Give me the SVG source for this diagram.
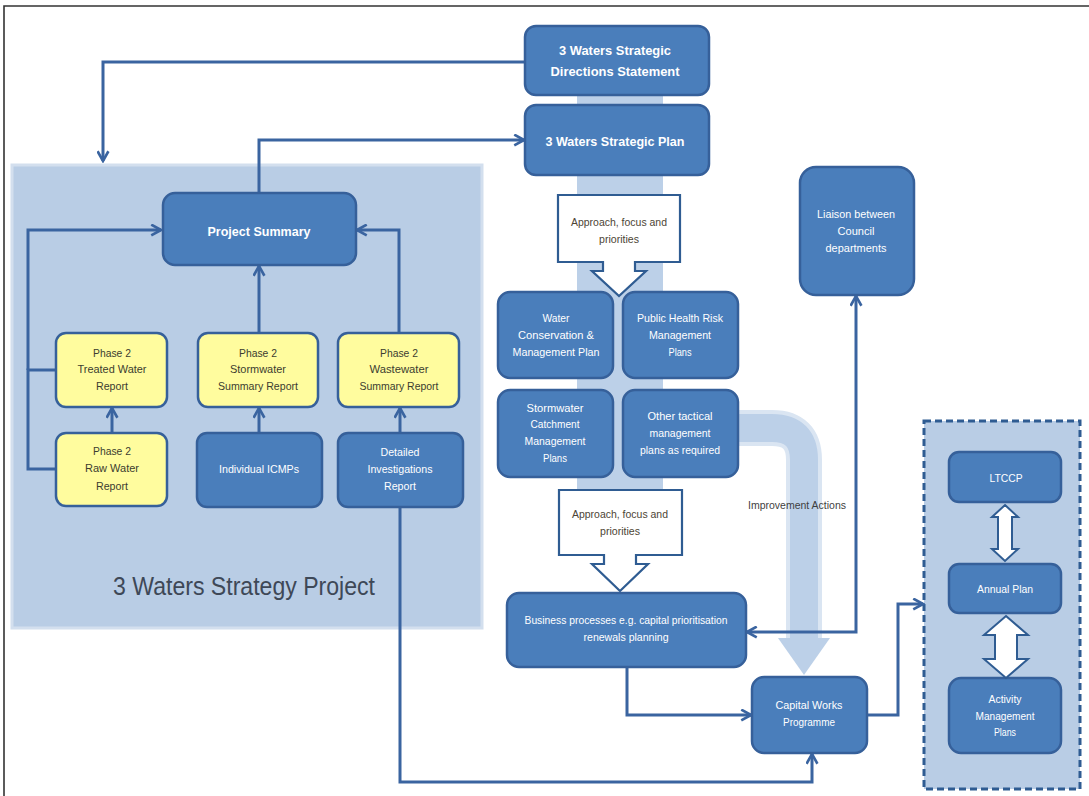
<svg xmlns="http://www.w3.org/2000/svg" width="1089" height="796" viewBox="0 0 1089 796">
  <defs>
    <style>
      .box { fill: #4A7EBB; stroke: #36609A; stroke-width: 2.5; }
      .ybox { fill: #FFFC9E; stroke: #36609A; stroke-width: 2.5; }
      .callout { fill: #FFFFFF; stroke: #2F5C92; stroke-width: 2.2; }
      .dbl { fill: #FFFFFF; stroke: #2F5C92; stroke-width: 2; }
      .con { fill: none; stroke: #3A64A0; stroke-width: 3; }
      .arr { marker-end: url(#head); }
      text { font-family: "Liberation Sans Narrow", "Liberation Sans", Arial, sans-serif; text-anchor: middle; }
      .t { fill: #FFFFFF; font-size: 11px; }
      .tb { fill: #FFFFFF; font-size: 13px; font-weight: bold; }
      .ty { fill: #3C3C30; font-size: 11px; }
      .tc { fill: #4D4535; font-size: 11px; }
      .tg { fill: #3F3F3F; font-size: 11px; }
      .title { fill: #3E4857; font-size: 26px; }
    </style>
    <marker id="head" viewBox="0 0 12 12" refX="10.5" refY="6" markerWidth="13" markerHeight="13" markerUnits="userSpaceOnUse" orient="auto">
      <path d="M1.5,1 L10.5,6 L1.5,11" fill="none" stroke="#3A64A0" stroke-width="2.4"/>
    </marker>
  </defs>

  <rect x="0" y="0" width="1089" height="796" fill="#FFFFFF"/>

  <!-- page frame -->
  <path d="M4,796 V6 H1089" fill="none" stroke="#333333" stroke-width="1.6"/>

  <!-- project panel -->
  <g id="strategy-project">
    <rect x="12" y="165" width="470" height="463" fill="#B9CDE5" stroke="#D3DFEE" stroke-width="3"/>
    <text class="title" x="244" y="595" textLength="262" lengthAdjust="spacingAndGlyphs">3 Waters Strategy Project</text>
  </g>

  <!-- background flows -->
  <g id="flow-bands">
    <rect x="577" y="95" width="86" height="400" fill="#BCD0E8"/>
    <path d="M735,428 H772 Q804,428 804,460 V640" fill="none" stroke="#DAE5F2" stroke-width="36"/>
    <path d="M735,428 H772 Q804,428 804,460 V642" fill="none" stroke="#BCD0E8" stroke-width="28"/>
    <polygon points="778,638 830,638 804,675" fill="#BCD0E8"/>
    <text class="tg" x="797" y="509" textLength="98" lengthAdjust="spacingAndGlyphs">Improvement Actions</text>
  </g>

  <!-- dashed planning container -->
  <g id="planning-docs">
    <rect x="924" y="421" width="156" height="368" fill="#B9CDE5" stroke="#2F5C92" stroke-width="3" stroke-dasharray="7,4"/>
  </g>

  <!-- connectors -->
  <g id="connectors">
    <path class="con arr" d="M525,62 H103 V161"/>
    <path class="con arr" d="M259,193 V140 H524"/>
    <path class="con arr" d="M28,370 V230 H161"/>
    <path class="con" d="M56,370 H28 V469 H56"/>
    <path class="con arr" d="M112,433 V408"/>
    <path class="con arr" d="M259,433 V408"/>
    <path class="con arr" d="M259,333 V266"/>
    <path class="con arr" d="M400,433 V408"/>
    <path class="con arr" d="M399,333 V230 H357"/>
    <path class="con arr" d="M400,507 V782 H812 V754"/>
    <path class="con arr" d="M627,667 V715 H751"/>
    <path class="con arr" d="M867,715 H898 V604 H923"/>
    <path class="con arr" d="M856,400 V632 H747"/>
    <path class="con arr" d="M856,400 V296"/>
  </g>

  <g id="directions-statement">
    <rect class="box" x="525" y="26" width="184" height="69" rx="11"/>
    <text class="tb" x="615" y="55" textLength="112" lengthAdjust="spacingAndGlyphs">3 Waters Strategic</text>
    <text class="tb" x="615" y="76" textLength="129" lengthAdjust="spacingAndGlyphs">Directions Statement</text>
  </g>

  <g id="strategic-plan">
    <rect class="box" x="525" y="105" width="184" height="70" rx="11"/>
    <text class="tb" x="615" y="146" textLength="139" lengthAdjust="spacingAndGlyphs">3 Waters Strategic Plan</text>
  </g>

  <g id="project-summary">
    <rect class="box" x="163" y="193" width="193" height="72" rx="12"/>
    <text class="tb" x="259" y="236" font-size="14" textLength="103" lengthAdjust="spacingAndGlyphs">Project Summary</text>
  </g>

  <g id="treated-water">
    <rect class="ybox" x="56" y="333" width="111" height="74" rx="10"/>
    <text class="ty" x="112" y="357" textLength="38" lengthAdjust="spacingAndGlyphs">Phase 2</text>
    <text class="ty" x="112" y="373" textLength="69" lengthAdjust="spacingAndGlyphs">Treated Water</text>
    <text class="ty" x="112" y="390" textLength="32" lengthAdjust="spacingAndGlyphs">Report</text>
  </g>

  <g id="raw-water">
    <rect class="ybox" x="56" y="433" width="111" height="73" rx="10"/>
    <text class="ty" x="112" y="455" textLength="38" lengthAdjust="spacingAndGlyphs">Phase 2</text>
    <text class="ty" x="112" y="472" textLength="54" lengthAdjust="spacingAndGlyphs">Raw Water</text>
    <text class="ty" x="112" y="490" textLength="32" lengthAdjust="spacingAndGlyphs">Report</text>
  </g>

  <g id="stormwater-summary">
    <rect class="ybox" x="198" y="333" width="120" height="74" rx="10"/>
    <text class="ty" x="258" y="357" textLength="38" lengthAdjust="spacingAndGlyphs">Phase 2</text>
    <text class="ty" x="258" y="373" textLength="56" lengthAdjust="spacingAndGlyphs">Stormwater</text>
    <text class="ty" x="258" y="390" textLength="80" lengthAdjust="spacingAndGlyphs">Summary Report</text>
  </g>

  <g id="individual-icmps">
    <rect class="box" x="197" y="433" width="125" height="74" rx="10"/>
    <text class="t" x="259" y="473" textLength="80" lengthAdjust="spacingAndGlyphs">Individual ICMPs</text>
  </g>

  <g id="wastewater-summary">
    <rect class="ybox" x="338" y="333" width="121" height="74" rx="10"/>
    <text class="ty" x="399" y="357" textLength="38" lengthAdjust="spacingAndGlyphs">Phase 2</text>
    <text class="ty" x="399" y="373" textLength="59" lengthAdjust="spacingAndGlyphs">Wastewater</text>
    <text class="ty" x="399" y="390" textLength="79" lengthAdjust="spacingAndGlyphs">Summary Report</text>
  </g>

  <g id="detailed-investigations">
    <rect class="box" x="338" y="433" width="125" height="74" rx="10"/>
    <text class="t" x="400" y="456" textLength="39" lengthAdjust="spacingAndGlyphs">Detailed</text>
    <text class="t" x="400" y="473" textLength="65" lengthAdjust="spacingAndGlyphs">Investigations</text>
    <text class="t" x="400" y="490" textLength="32" lengthAdjust="spacingAndGlyphs">Report</text>
  </g>

  <g id="approach-upper">
    <path class="callout" d="M558,195 H680 V262 H635 V271 H646 L619,296 L592,271 H603 V262 H558 Z"/>
    <text class="tc" x="619" y="226" textLength="96" lengthAdjust="spacingAndGlyphs">Approach, focus and</text>
    <text class="tc" x="619" y="243" textLength="40" lengthAdjust="spacingAndGlyphs">priorities</text>
  </g>

  <g id="water-conservation">
    <rect class="box" x="498" y="292" width="115" height="86" rx="12"/>
    <text class="t" x="556" y="322" textLength="27" lengthAdjust="spacingAndGlyphs">Water</text>
    <text class="t" x="556" y="339" textLength="76" lengthAdjust="spacingAndGlyphs">Conservation &amp;</text>
    <text class="t" x="556" y="356" textLength="87" lengthAdjust="spacingAndGlyphs">Management Plan</text>
  </g>

  <g id="public-health">
    <rect class="box" x="623" y="292" width="115" height="86" rx="12"/>
    <text class="t" x="680" y="322" textLength="86" lengthAdjust="spacingAndGlyphs">Public Health Risk</text>
    <text class="t" x="680" y="339" textLength="62" lengthAdjust="spacingAndGlyphs">Management</text>
    <text class="t" x="680" y="356" textLength="23" lengthAdjust="spacingAndGlyphs">Plans</text>
  </g>

  <g id="stormwater-catchment">
    <rect class="box" x="498" y="390" width="115" height="87" rx="12"/>
    <text class="t" x="555" y="412" textLength="57" lengthAdjust="spacingAndGlyphs">Stormwater</text>
    <text class="t" x="555" y="428" textLength="49" lengthAdjust="spacingAndGlyphs">Catchment</text>
    <text class="t" x="555" y="445" textLength="61" lengthAdjust="spacingAndGlyphs">Management</text>
    <text class="t" x="555" y="462" textLength="24" lengthAdjust="spacingAndGlyphs">Plans</text>
  </g>

  <g id="other-tactical">
    <rect class="box" x="623" y="390" width="115" height="87" rx="12"/>
    <text class="t" x="680" y="420" textLength="65" lengthAdjust="spacingAndGlyphs">Other tactical</text>
    <text class="t" x="680" y="437" textLength="61" lengthAdjust="spacingAndGlyphs">management</text>
    <text class="t" x="680" y="454" textLength="80" lengthAdjust="spacingAndGlyphs">plans as required</text>
  </g>

  <g id="approach-lower">
    <path class="callout" d="M559,490 H682 V555 H636 V564 H648 L620,591 L592,564 H604 V555 H559 Z"/>
    <text class="tc" x="620" y="518" textLength="96" lengthAdjust="spacingAndGlyphs">Approach, focus and</text>
    <text class="tc" x="620" y="535" textLength="40" lengthAdjust="spacingAndGlyphs">priorities</text>
  </g>

  <g id="business-processes">
    <rect class="box" x="507" y="593" width="239" height="74" rx="12"/>
    <text class="t" x="626" y="624" textLength="203" lengthAdjust="spacingAndGlyphs">Business processes e.g. capital prioritisation</text>
    <text class="t" x="626" y="641" textLength="85" lengthAdjust="spacingAndGlyphs">renewals planning</text>
  </g>

  <g id="capital-works">
    <rect class="box" x="752" y="677" width="115" height="76" rx="12"/>
    <text class="t" x="809" y="709" textLength="67" lengthAdjust="spacingAndGlyphs">Capital Works</text>
    <text class="t" x="809" y="726" textLength="52" lengthAdjust="spacingAndGlyphs">Programme</text>
  </g>

  <g id="liaison">
    <rect class="box" x="800" y="167" width="114" height="128" rx="16"/>
    <text class="t" x="856" y="218" textLength="78" lengthAdjust="spacingAndGlyphs">Liaison between</text>
    <text class="t" x="856" y="235" textLength="37" lengthAdjust="spacingAndGlyphs">Council</text>
    <text class="t" x="856" y="252" textLength="61" lengthAdjust="spacingAndGlyphs">departments</text>
  </g>

  <g id="ltccp">
    <rect class="box" x="949" y="452" width="112" height="50" rx="10"/>
    <text class="t" x="1006" y="482" textLength="33" lengthAdjust="spacingAndGlyphs">LTCCP</text>
  </g>

  <g id="annual-plan">
    <rect class="box" x="949" y="564" width="112" height="49" rx="10"/>
    <text class="t" x="1005" y="593" textLength="56" lengthAdjust="spacingAndGlyphs">Annual Plan</text>
  </g>

  <g id="activity-plans">
    <rect class="box" x="949" y="678" width="112" height="75" rx="12"/>
    <text class="t" x="1005" y="703" textLength="33" lengthAdjust="spacingAndGlyphs">Activity</text>
    <text class="t" x="1005" y="720" textLength="59" lengthAdjust="spacingAndGlyphs">Management</text>
    <text class="t" x="1005" y="736" textLength="22" lengthAdjust="spacingAndGlyphs">Plans</text>
  </g>

  <!-- two-way links inside the container -->
  <g id="two-way-links">
    <path class="dbl" d="M1005,505 L1018,517 H1012 V549 H1018 L1005,561 L992,549 H998 V517 H992 Z"/>
    <path class="dbl" d="M1006,616 L1028,635 H1017 V659 H1028 L1006,678 L984,659 H995 V635 H984 Z"/>
  </g>
</svg>
